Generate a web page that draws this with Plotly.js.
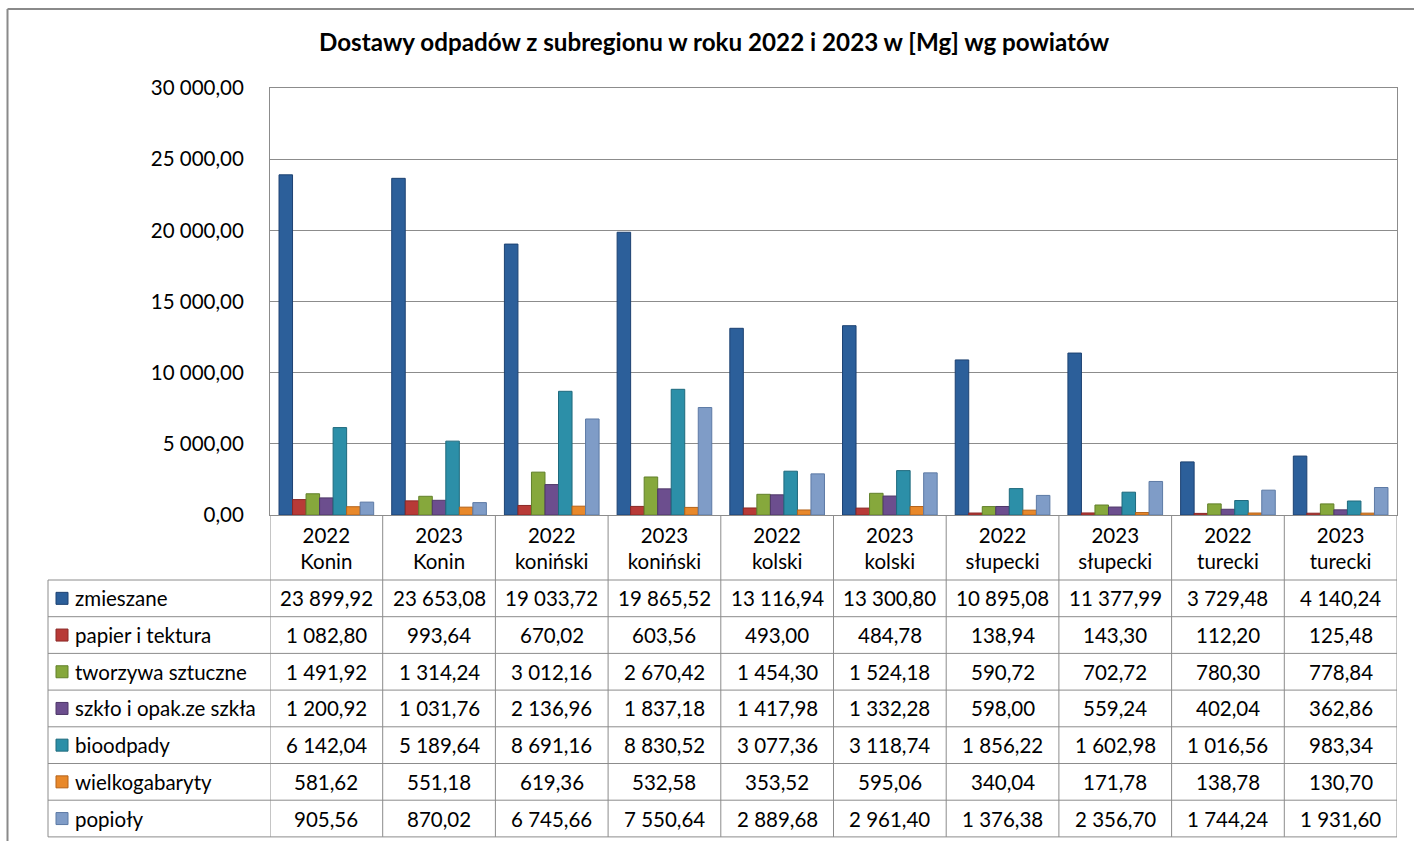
<!DOCTYPE html>
<html>
<head>
<meta charset="utf-8">
<script src="https://cdn.plot.ly/plotly-3.0.1.min.js"></script>
<style>html,body{margin:0;padding:0;background:#fff;}#chart{width:1414px;height:841px;}</style>
</head>
<body>
<div id="chart"></div>
<script>
const years = ['2022','2023','2022','2023','2022','2023','2022','2023','2022','2023'];
const powiaty = ['Konin','Konin','koniński','koniński','kolski','kolski','słupecki','słupecki','turecki','turecki'];
const categories = years.map((y, i) => y + '<br>' + powiaty[i]);

const seriesNames = ['zmieszane','papier i tektura','tworzywa sztuczne','szkło i opak.ze szkła','bioodpady','wielkogabaryty','popioły'];
const zmieszane   = [23899.92, 23653.08, 19033.72, 19865.52, 13116.94, 13300.80, 10895.08, 11377.99, 3729.48, 4140.24];
const papier      = [1082.80, 993.64, 670.02, 603.56, 493.00, 484.78, 138.94, 143.30, 112.20, 125.48];
const tworzywa    = [1491.92, 1314.24, 3012.16, 2670.42, 1454.30, 1524.18, 590.72, 702.72, 780.30, 778.84];
const szklo       = [1200.92, 1031.76, 2136.96, 1837.18, 1417.98, 1332.28, 598.00, 559.24, 402.04, 362.86];
const bioodpady   = [6142.04, 5189.64, 8691.16, 8830.52, 3077.36, 3118.74, 1856.22, 1602.98, 1016.56, 983.34];
const wielko      = [581.62, 551.18, 619.36, 532.58, 353.52, 595.06, 340.04, 171.78, 138.78, 130.70];
const popioly     = [905.56, 870.02, 6745.66, 7550.64, 2889.68, 2961.40, 1376.38, 2356.70, 1744.24, 1931.60];
const seriesValues = [zmieszane, papier, tworzywa, szklo, bioodpady, wielko, popioly];

const colors = ['#2c5f9a','#b83a37','#86a83c','#6c4e8e','#2c8fa8','#e8882a','#7f9cc7'];
const lineColors = ['#1d4272','#8a2826','#62802a','#4e3768','#1f6a7d','#b4631a','#5d7aa5'];

const W = 1414, H = 841;
const L = 270, R = 17, T = 88, B = 326;
const PW = W - L - R, PH = H - T - B;
const px2x = px => (px - L) / PW;
const px2y = py => (H - B - py) / PH;

const FONT = 'Lato, "Liberation Sans", sans-serif';
const GRID = '#8c8c8c';
const TXT = 20.5;

function fmt(v) {
  const s = v.toFixed(2).split('.');
  const int = s[0].replace(/\B(?=(\d{3})+(?!\d))/g, ' ');
  return int + ',' + s[1];
}

const traces = seriesNames.map((n, k) => ({
  type: 'bar',
  name: n,
  x: categories.map((c, i) => i),
  y: seriesValues[k],
  marker: {color: colors[k], line: {color: lineColors[k], width: 1}},
  hoverinfo: 'name+y'
}));

const tableTop = 515, headerBottom = 580, rowH = 36.7;
const tableLeft = 48;
const shapes = [];
const annotations = [];

// outer frame (top and left)
shapes.push({type:'line', xref:'paper', yref:'paper', x0:px2x(7.5), x1:px2x(1420), y0:px2y(9), y1:px2y(9), line:{color:'#8a8a8a', width:2}});
shapes.push({type:'line', xref:'paper', yref:'paper', x0:px2x(7.5), x1:px2x(7.5), y0:px2y(9), y1:px2y(850), line:{color:'#8a8a8a', width:2}});

// horizontal table lines
for (let r = 0; r <= seriesNames.length; r++) {
  const py = headerBottom + r * rowH;
  shapes.push({type:'line', xref:'paper', yref:'paper', x0:px2x(tableLeft), x1:1, y0:px2y(py), y1:px2y(py), line:{color:GRID, width:1}});
}
// left table border
shapes.push({type:'line', xref:'paper', yref:'paper', x0:px2x(tableLeft), x1:px2x(tableLeft), y0:px2y(headerBottom), y1:px2y(headerBottom + 7*rowH), line:{color:GRID, width:1}});
// vertical category lines
for (let i = -1; i < categories.length; i++) {
  shapes.push({type:'line', xref:'x', yref:'paper', x0:i+0.5, x1:i+0.5, y0:px2y(tableTop), y1:px2y(headerBottom + 7*rowH), line:{color:GRID, width:1}});
}

// rows: legend keys, names, values
seriesNames.forEach((n, k) => {
  const cy = headerBottom + (k + 0.5) * rowH;
  shapes.push({type:'rect', xref:'paper', yref:'paper', x0:px2x(56), x1:px2x(68), y0:px2y(cy - 6), y1:px2y(cy + 6), fillcolor:colors[k], line:{color:lineColors[k], width:1}});
  annotations.push({xref:'paper', yref:'paper', x:px2x(73), y:px2y(cy), xanchor:'left', yanchor:'middle', showarrow:false, text:n, font:{family:FONT, size:TXT, color:'#000'}});
  seriesValues[k].forEach((v, i) => {
    annotations.push({xref:'x', yref:'paper', x:i, y:px2y(cy), xanchor:'center', yanchor:'middle', showarrow:false, text:fmt(v), font:{family:FONT, size:TXT, color:'#000'}});
  });
});

const layout = {
  width: W, height: H,
  margin: {l:L, r:R, t:T, b:B, pad:0},
  paper_bgcolor: '#fff', plot_bgcolor: '#fff',
  separators: ', ',
  showlegend: false,
  barmode: 'group',
  bargap: 0.16,
  bargroupgap: 0,
  title: {text:'<b>Dostawy odpadów z subregionu w roku 2022 i 2023 w [Mg] wg powiatów</b>', x:0.505, xanchor:'center', y:1 - 43/H, yanchor:'middle', font:{family:FONT, size:24.2, color:'#000'}},
  xaxis: {
    type:'linear', range:[-0.5, categories.length - 0.5],
    tickmode:'array', tickvals: categories.map((c,i)=>i), ticktext: categories,
    showgrid:false, zeroline:false, showline:true, mirror:true, linecolor:GRID, linewidth:1,
    ticks:'', ticklabelstandoff: 2,
    tickfont:{family:FONT, size:TXT, color:'#000'}, fixedrange:true
  },
  yaxis: {
    range:[0, 30000], tickmode:'linear', tick0:0, dtick:5000, tickformat:',.2f',
    showgrid:true, gridcolor:GRID, gridwidth:1, zeroline:false,
    showline:true, mirror:true, linecolor:GRID, linewidth:1,
    ticks:'', ticklabelstandoff: 21,
    tickfont:{family:FONT, size:TXT, color:'#000'}, fixedrange:true
  },
  shapes: shapes,
  annotations: annotations
};

Plotly.newPlot('chart', traces, layout, {displayModeBar:false, staticPlot:true});
</script>
</body>
</html>
